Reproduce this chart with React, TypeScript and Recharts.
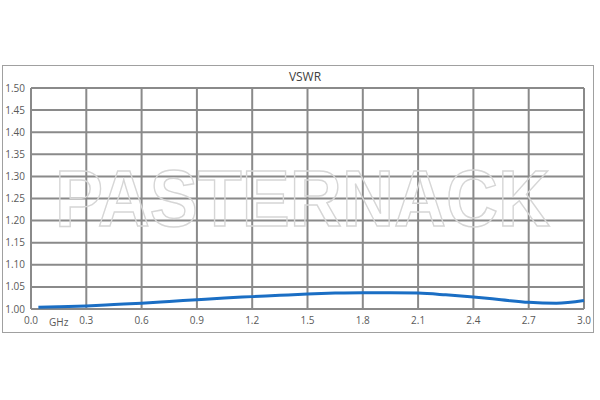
import React from "react";
import { LineChart, Line, XAxis, YAxis, CartesianGrid } from "recharts";

// frequency in GHz
const freqGHz = [0.04, 0.15, 0.3, 0.45, 0.6, 0.75, 0.9, 1.05, 1.2, 1.35, 1.5, 1.65, 1.8, 1.95, 2.1, 2.25, 2.4, 2.55, 2.7, 2.85, 3.0];
const vswr = [1.004, 1.005, 1.007, 1.01, 1.013, 1.017, 1.021, 1.025, 1.028, 1.031, 1.034, 1.036, 1.037, 1.037, 1.036, 1.032, 1.027, 1.021, 1.015, 1.013, 1.019];

const xTicks = [0, 0.3, 0.6, 0.9, 1.2, 1.5, 1.8, 2.1, 2.4, 2.7, 3.0];
const yTicks = [1.0, 1.05, 1.1, 1.15, 1.2, 1.25, 1.3, 1.35, 1.4, 1.45, 1.5];

const data = freqGHz.map((f, i) => ({ f, v: vswr[i] }));

const FONT = "'Open Sans', 'Liberation Sans', sans-serif";
const TEXT = "#595959";

export default function App() {
  return (
    <div style={{ position: "absolute", left: 0, top: 0, width: 600, height: 400, background: "#fff", fontFamily: FONT }}>
      {/* outer chart frame */}
      <div
        style={{
          position: "absolute",
          left: 2,
          top: 65,
          width: 592,
          height: 268,
          border: "1.5px solid #a0a0a0",
          boxSizing: "border-box",
        }}
      />
      <div style={{ position: "absolute", left: 0, top: 68, width: 610, textAlign: "center", fontSize: 12, color: "#404040" }}>
        VSWR
      </div>

      <div style={{ position: "absolute", left: 0, top: 0 }}>
        <LineChart width={600} height={400} data={data} margin={{ top: 88, right: 16, bottom: 0, left: 0 }}>
          <CartesianGrid stroke="#8a8a8a" strokeWidth={2} horizontalValues={yTicks} verticalValues={xTicks} />
          <XAxis
            dataKey="f"
            type="number"
            domain={[0, 3]}
            ticks={xTicks}
            tickFormatter={(t: number) => t.toFixed(1)}
            axisLine={false}
            tickLine={false}
            tickSize={0}
            tickMargin={8}
            height={91}
            tick={{ fontSize: 10, fill: TEXT, fontFamily: FONT }}
            interval={0}
          />
          <YAxis
            type="number"
            domain={[1, 1.5]}
            ticks={yTicks}
            tickFormatter={(t: number) => t.toFixed(2)}
            axisLine={false}
            tickLine={false}
            tickSize={0}
            tickMargin={6}
            width={31}
            tick={{ fontSize: 10, fill: TEXT, fontFamily: FONT }}
            interval={0}
          />
          <Line
            dataKey="v"
            type="monotone"
            stroke="#1a6ec4"
            strokeWidth={3}
            dot={false}
            isAnimationActive={false}
          />
        </LineChart>
      </div>

      <div style={{ position: "absolute", left: 49, top: 315, fontSize: 10, color: TEXT }}>GHz</div>

      {/* watermark */}
      <svg width={600} height={400} style={{ position: "absolute", left: 0, top: 0, pointerEvents: "none" }}>
        <text
          x={55}
          y={226}
          fontSize={80}
          fontWeight="bold"
          fontFamily="'Liberation Sans', Arial, sans-serif"
          fill="none"
          stroke="#d6d6d6"
          strokeWidth={1.5}
          textLength={495}
          lengthAdjust="spacingAndGlyphs"
        >
          PASTERNACK
        </text>
      </svg>
    </div>
  );
}
